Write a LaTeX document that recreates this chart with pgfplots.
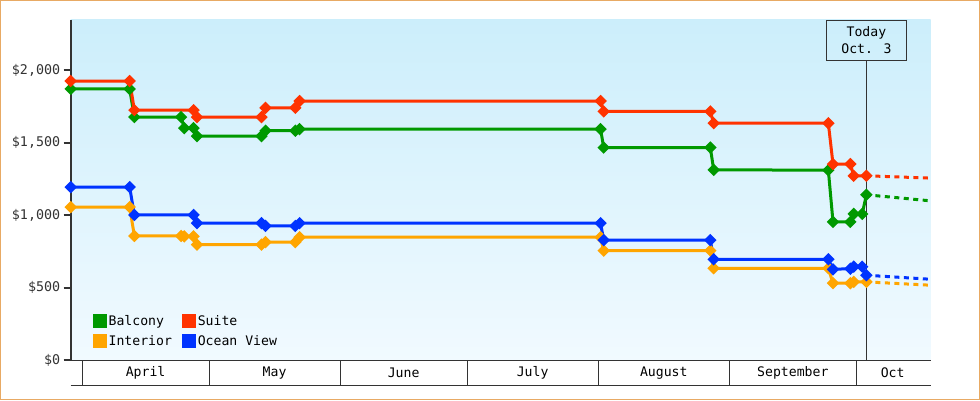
\documentclass[border=0pt]{standalone}
\usepackage{pgfplots}
\pgfplotsset{compat=1.18}
\usepackage{fontspec}
\setmainfont{DejaVu Sans Mono}
\definecolor{cgreen}{RGB}{0,153,0}
\definecolor{cred}{RGB}{255,51,0}
\definecolor{corange}{RGB}{255,165,0}
\definecolor{cblue}{RGB}{0,51,255}
\definecolor{bgtop}{RGB}{204,238,251}
\definecolor{bgbot}{RGB}{241,250,255}
\definecolor{axgray}{RGB}{51,51,51}
\definecolor{framec}{RGB}{232,170,100}
\begin{document}
\begin{tikzpicture}[x=1bp,y=1bp]
\useasboundingbox (0,0) rectangle (980,400);
\fill[white] (0,0) rectangle (980,400);
\draw[framec, line width=1.5bp] (0.75,0.75) rectangle (979.25,399.25);
\begin{axis}[
  at={(70.7bp,39.7bp)}, anchor=south west,
  scale only axis, width=860bp, height=340.6bp,
  xmin=-2.7, xmax=200.6, ymin=0, ymax=2350,
  clip=false,
  axis x line=bottom, axis y line=left,
  axis line style={-},
  x axis line style={line width=1bp, draw=axgray},
  y axis line style={line width=2bp, draw=axgray},
  xtick=\empty,
  ytick={0,500,1000,1500,2000},
  yticklabels={{\$0},{\$500},{\$1,000},{\$1,500},{\$2,000}},
  y tick style={line width=2bp, draw=axgray},
  tick align=outside, major tick length=7bp,
  y tick label style={font=\fontsize{13.4}{13.4}\selectfont, text=axgray},
  axis background/.style={shade, top color=bgtop, bottom color=bgbot},
  every axis plot/.append style={line width=3bp, mark=square*, mark size=2.9bp, mark options={rotate=45, solid}},
  legend columns=2,
  legend cell align=left,
  legend image code/.code={\fill[#1] (0bp,-5.2bp) rectangle (10.4bp,5.2bp);},
  legend style={at={(rel axis cs:0,0)}, anchor=south west, xshift=22.3bp, yshift=11.3bp,
    draw=none, fill=none, font=\fontsize{13.2}{13.2}\selectfont, inner sep=0pt,
    column sep=0bp, row sep=4.6bp,
    /tikz/column 2/.style={column sep=8.5bp}},
]
% today line
\draw[axgray, line width=0.9bp] (axis cs:185.4,0) -- (axis cs:185.4,2074);
\node[draw=axgray, line width=0.9bp, align=center, font=\fontsize{13.2}{17.8}\selectfont,
  minimum width=80.7bp, minimum height=40bp, inner sep=0pt, anchor=north]
  at (axis cs:185.4,2350) {Today\\Oct. 3};

\addplot[color=cgreen] coordinates {
(-2.7,1872) (11.24,1872) (12.35,1678) (23.4,1678) (24.15,1602) (26.35,1602)
(27.15,1547) (42.4,1547) (43.35,1584) (50.4,1584) (51.4,1595) (122.55,1595)
(123.3,1468) (148.5,1468) (149.3,1314) (176.4,1312) (177.5,955) (181.6,955)
(182.4,1010) (184.4,1010) (185.4,1142)};
\addlegendentry{Balcony}
\addplot[color=cred] coordinates {
(-2.7,1927) (11.24,1927) (12.35,1726) (26.35,1726) (27.15,1678) (42.4,1678)
(43.35,1742) (50.4,1742) (51.4,1789) (122.55,1789) (123.3,1717) (148.5,1717)
(149.3,1636) (176.4,1636) (177.5,1354) (181.6,1354) (182.4,1273) (185.4,1273)};
\addlegendentry{Suite}
\addplot[color=corange] coordinates {
(-2.7,1057) (11.24,1057) (12.35,858) (23.4,858) (24.15,855) (26.35,855)
(27.15,798) (42.4,798) (43.35,815) (50.4,815) (51.4,849) (122.55,849)
(123.3,757) (148.5,757) (149.3,635) (176.4,635) (177.5,532) (181.6,532)
(182.4,541) (185.4,541)};
\addlegendentry{Interior}
\addplot[color=cblue] coordinates {
(-2.7,1195) (11.24,1195) (12.35,1003) (26.35,1003) (27.15,946) (42.4,946)
(43.35,927) (50.4,927) (51.4,946) (122.55,946) (123.3,829) (148.5,829)
(149.3,697) (176.4,697) (177.5,628) (181.6,632) (182.4,646) (184.4,646)
(185.4,587)};
\addlegendentry{Ocean View}

% forecasts
\addplot[forget plot, color=cgreen, no marks, dash pattern=on 5bp off 4.5bp, dash phase=0.5bp] coordinates {(185.4,1142) (200.6,1100)};
\addplot[forget plot, color=cred, no marks, dash pattern=on 5bp off 4.5bp, dash phase=0.5bp] coordinates {(185.4,1273) (200.6,1257)};
\addplot[forget plot, color=corange, no marks, dash pattern=on 5bp off 4.5bp, dash phase=0.5bp] coordinates {(185.4,541) (200.6,518)};
\addplot[forget plot, color=cblue, no marks, dash pattern=on 5bp off 4.5bp, dash phase=0.5bp] coordinates {(185.4,587) (200.6,559)};

% month boxes
\draw[axgray, line width=1bp] ([yshift=-24.7bp]axis cs:-2.7,0) -- ([yshift=-24.7bp]axis cs:200.6,0);
\draw[axgray, line width=1bp] (axis cs:0,0) -- ([yshift=-24.7bp]axis cs:0,0);
\draw[axgray, line width=1bp] (axis cs:30,0) -- ([yshift=-24.7bp]axis cs:30,0);
\draw[axgray, line width=1bp] (axis cs:61,0) -- ([yshift=-24.7bp]axis cs:61,0);
\draw[axgray, line width=1bp] (axis cs:91,0) -- ([yshift=-24.7bp]axis cs:91,0);
\draw[axgray, line width=1bp] (axis cs:122,0) -- ([yshift=-24.7bp]axis cs:122,0);
\draw[axgray, line width=1bp] (axis cs:153,0) -- ([yshift=-24.7bp]axis cs:153,0);
\draw[axgray, line width=1bp] (axis cs:183,0) -- ([yshift=-24.7bp]axis cs:183,0);
\node[font=\fontsize{13.2}{13.2}\selectfont] at ([yshift=-12.8bp]axis cs:15,0) {April};
\node[font=\fontsize{13.2}{13.2}\selectfont] at ([yshift=-12.8bp]axis cs:45.5,0) {May};
\node[font=\fontsize{13.2}{13.2}\selectfont] at ([yshift=-12.8bp]axis cs:76,0) {June};
\node[font=\fontsize{13.2}{13.2}\selectfont] at ([yshift=-12.8bp]axis cs:106.5,0) {July};
\node[font=\fontsize{13.2}{13.2}\selectfont] at ([yshift=-12.8bp]axis cs:137.5,0) {August};
\node[font=\fontsize{13.2}{13.2}\selectfont] at ([yshift=-12.8bp]axis cs:168,0) {September};
\node[font=\fontsize{13.2}{13.2}\selectfont] at ([yshift=-12.8bp]axis cs:191.6,0) {Oct};
\end{axis}
\end{tikzpicture}
\end{document}
